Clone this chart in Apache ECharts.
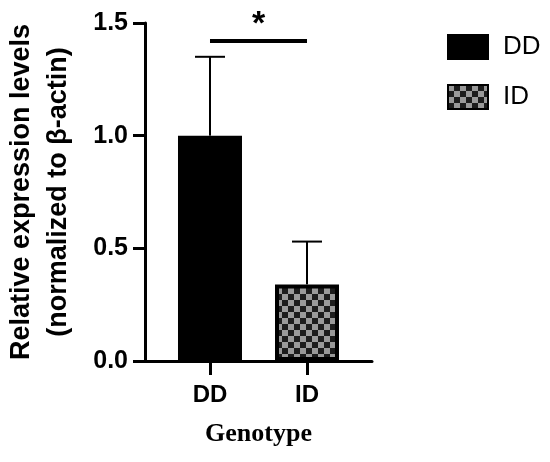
<!DOCTYPE html>
<html>
<head>
<meta charset="utf-8">
<script src="https://cdn.jsdelivr.net/npm/echarts@6.0.0/dist/echarts.min.js"></script>
<style>
  html, body { margin: 0; padding: 0; background: #fff; }
  #chart { width: 550px; height: 462px; }
</style>
</head>
<body>
<div id="chart"></div>
<script>
// data
var genotypes = ['DD', 'ID'];
var means = [1.0, 0.34];
var errTop = [1.35, 0.53];   // mean + SD
var sigPair = [0, 1];
var sigLevel = 1.42;
var sigMark = '*';

// checkered fill for the ID bar
function checker(){
  var c = document.createElement('canvas');
  c.width = 12; c.height = 12;
  var ctx = c.getContext('2d');
  ctx.fillStyle = '#1c1c1c';
  ctx.fillRect(0, 0, 12, 12);
  ctx.fillStyle = '#999999';
  ctx.fillRect(0, 0, 6, 6);
  ctx.fillRect(6, 6, 6, 6);
  return c;
}

var chart = echarts.init(document.getElementById('chart'), null, {renderer: 'canvas'});
var sans = 'Arial, "Liberation Sans", sans-serif';

var option = {
  animation: false,
  grid: { left: 145, top: 23, right: 178, bottom: 101 },
  legend: {
    orient: 'vertical',
    left: 447, top: 34,
    padding: 0,
    icon: 'rect',
    itemWidth: 40, itemHeight: 24, itemGap: 24,
    data: genotypes,
    textStyle: { fontFamily: sans, fontSize: 26, color: '#000', padding: [0, 0, 0, 10] }
  },
  xAxis: {
    type: 'value',
    min: -0.67, max: 1.67,
    splitLine: { show: false },
    axisLine: { onZero: false, lineStyle: { color: '#000', width: 3 } },
    axisTick: { length: 14, customValues: [0, 1], lineStyle: { color: '#000', width: 3 } },
    axisLabel: {
      customValues: [0, 1], margin: 22,
      formatter: function(v){ return genotypes[Math.round(v)]; },
      fontFamily: sans, fontWeight: 'bold', fontSize: 24, color: '#000'
    },
    name: 'Genotype',
    nameLocation: 'middle',
    nameGap: 60,
    nameTextStyle: { fontFamily: '"Times New Roman", "Liberation Serif", serif', fontWeight: 'bold', fontSize: 26, color: '#000' }
  },
  yAxis: {
    type: 'value',
    min: 0, max: 1.5, interval: 0.5,
    splitLine: { show: false },
    axisLine: { show: true, onZero: false, lineStyle: { color: '#000', width: 3 } },
    axisTick: { show: true, length: 12, lineStyle: { color: '#000', width: 3 } },
    axisLabel: {
      margin: 17,
      formatter: function(v){ return v.toFixed(1); },
      fontFamily: sans, fontWeight: 'bold', fontSize: 25, color: '#000'
    },
    name: 'Relative expression levels\n(normalized to β-actin)',
    nameLocation: 'middle',
    nameRotate: 90,
    nameGap: 68,
    nameTextStyle: { fontFamily: sans, fontWeight: 'bold', fontSize: 27, lineHeight: 37, color: '#000', align: 'center' }
  },
  series: [
    {
      // error bars (upper half only)
      type: 'custom',
      z: 1,
      silent: true,
      data: means.map(function(m, i){ return [i, m, errTop[i]]; }),
      renderItem: function(params, api){
        var lo = api.coord([api.value(0), api.value(1)]);
        var hi = api.coord([api.value(0), api.value(2)]);
        var half = 15;
        var st = { stroke: '#000', lineWidth: 2 };
        return { type: 'group', children: [
          { type: 'line', shape: { x1: lo[0], y1: lo[1], x2: hi[0], y2: hi[1] }, style: st },
          { type: 'line', shape: { x1: hi[0] - half, y1: hi[1], x2: hi[0] + half, y2: hi[1] }, style: st }
        ]};
      }
    },
    {
      name: 'DD',
      type: 'bar',
      z: 2,
      barWidth: 64,
      barGap: '-100%',
      data: [[0, means[0]]],
      itemStyle: { color: '#000', borderColor: '#000', borderWidth: 2 }
    },
    {
      name: 'ID',
      type: 'bar',
      z: 2,
      barWidth: 64,
      barGap: '-100%',
      data: [[1, means[1]]],
      itemStyle: { color: { image: checker(), repeat: 'repeat' }, borderColor: '#000', borderWidth: 4 }
    },
    {
      // significance bracket
      type: 'custom',
      z: 3,
      silent: true,
      clip: false,
      data: [[sigPair[0], sigPair[1], sigLevel]],
      renderItem: function(params, api){
        var a = api.coord([api.value(0), api.value(2)]);
        var b = api.coord([api.value(1), api.value(2)]);
        return { type: 'group', children: [
          { type: 'line', shape: { x1: a[0], y1: a[1], x2: b[0], y2: b[1] }, style: { stroke: '#000', lineWidth: 4 } },
          { type: 'text', style: { text: sigMark, x: (a[0] + b[0]) / 2, y: a[1] + 1, align: 'center', verticalAlign: 'bottom',
              font: 'bold 34px ' + sans, fill: '#000' } }
        ]};
      }
    }
  ]
};
chart.setOption(option);
</script>
</body>
</html>
